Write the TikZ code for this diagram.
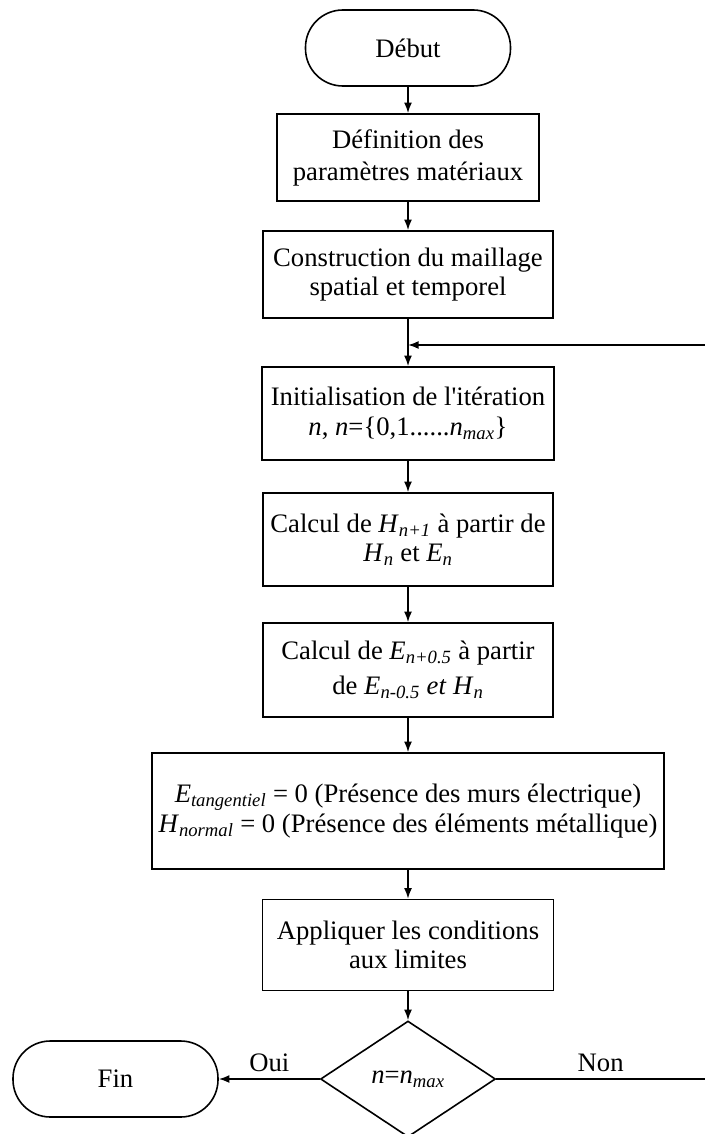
\documentclass[tikz,border=0pt]{standalone}
\usepackage{fontspec}
\setmainfont{Liberation Serif}
\usetikzlibrary{arrows.meta,shapes.geometric}
\newcommand{\indice}[1]{\textsubscript{\textit{#1}}}

\begin{document}
\begin{tikzpicture}[x=0.75pt,y=-0.75pt,>={Latex[length=8pt,width=6pt]},line width=1.2pt,
  every node/.style={font=\fontsize{20}{22}\selectfont},
  etape/.style={draw,rectangle,align=center,inner sep=0pt},
  terminal/.style={draw,rectangle,rounded corners=28pt,minimum width=153.75pt,minimum height=57pt},
  choix/.style={draw,diamond,shape aspect=1.5,inner sep=0pt,minimum width=131.25pt,minimum height=87pt}]
\useasboundingbox (0,0) rectangle (705,1134);
\node[terminal] (debut) at (408,48) {Début};
\node[etape,minimum width=196.5pt,minimum height=65.25pt] (def) at (408,157.5) {Définition des\\[2pt] paramètres matériaux};
\node[etape,minimum width=217.5pt,minimum height=65.25pt] (constr) at (408,274.5) {Construction du maillage\\ spatial et temporel};
\node[etape,minimum width=219pt,minimum height=69.75pt] (init) at (408,413.5) {Initialisation de l\textquotesingle itération\\ \textit{n}, \textit{n}=\{0,1......\textit{n}\indice{max}\}};
\node[etape,minimum width=217.5pt,minimum height=69.75pt] (hn) at (408,539.5) {Calcul de \textit{H}\indice{n+1} à partir de\\ \textit{H}\indice{n} et \textit{E}\indice{n}};
\node[etape,minimum width=217.5pt,minimum height=70.5pt] (en) at (408,670) {Calcul de \textit{E}\indice{n+0.5} à partir\\[4pt] de \textit{E}\indice{n-0.5} \textit{et} \textit{H}\indice{n}};
\node[etape,minimum width=384pt,minimum height=87pt] (cond) at (408,811) {\textit{E}\indice{tangentiel} = 0 (Présence des murs électrique)\\ \textit{H}\indice{normal} = 0 (Présence des éléments métallique)};
\node[etape,minimum width=218.25pt,minimum height=68.25pt] (lim) at (408,945) {Appliquer les conditions\\ aux limites};
\node[choix] (test) at (408,1079) {\textit{n}=\textit{n}\indice{max}};
\node[terminal] (fin) at (115.5,1079) {Fin};
\coordinate (jonction) at (408,345);
\coordinate (retour) at (705,345);
\coordinate (sortie) at (705,1079);
\draw[->] (debut) -- (def);
\draw[->] (def) -- (constr);
\draw[->] (constr) -- (init);
\draw[->] (retour) -- (jonction);
\draw[->] (init) -- (hn);
\draw[->] (hn) -- (en);
\draw[->] (en) -- (cond);
\draw[->] (cond) -- (lim);
\draw[->] (lim) -- (test);
\draw[->] (test) -- node[above,inner sep=5pt] (oui) {Oui} (fin);
\draw (test) -- node[above,inner sep=5pt] (non) {Non} (sortie);
\end{tikzpicture}
\end{document}
